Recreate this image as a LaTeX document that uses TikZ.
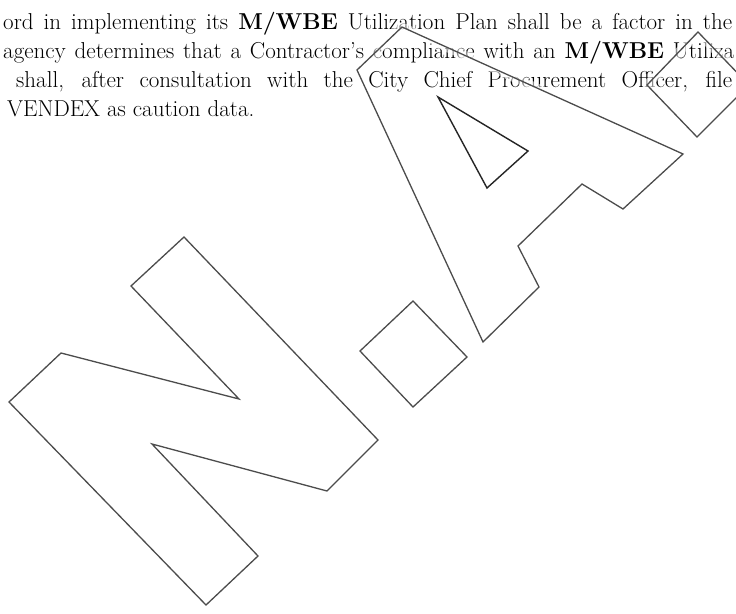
\documentclass[tikz,border=0pt]{standalone}
\usepackage{tikz}

\tikzset{
  wmline/.style={draw=black!70, line width=1.3pt, line join=miter},
  wmhole/.style={draw=black!85, line width=1.4pt, line join=miter},
  wmhalo/.style={draw=white, opacity=0.55, line width=9pt, line join=round},
  txtline/.style={anchor=base west, inner sep=0pt, font=\fontsize{23}{27}\selectfont},
}

% outlines of the watermark letters
\newcommand{\letterN}{(184,237) -- (378,440) -- (327,491) -- (152,444) -- (258,556) -- (206,605) -- (9,402) -- (61,353) -- (239,399) -- (131,286) -- cycle}
\newcommand{\dotN}{(413,301) -- (467,357) -- (413,407) -- (360,351) -- cycle}
\newcommand{\letterA}{(357,70) -- (402,27) -- (683,154) -- (623,209) -- (582,184) -- (518,246) -- (539,287) -- (483,342) -- cycle}
\newcommand{\holeA}{(438,97) -- (528,151) -- (487,188) -- cycle}
\newcommand{\dotA}{(647,85) -- (698,32) -- (749,85) -- (697,137) -- cycle}

\begin{document}
\begin{tikzpicture}[x=1pt,y=-1pt]
    \fill[white] (0,0) rectangle (736,613);
    \clip (0,0) rectangle (736,613);

    % scanned text
    \node[txtline] (l1) at (3,29) {\makebox[729pt][s]{ord in implementing its \textbf{M/WBE} Utilization Plan shall be a factor in the}};
    \node[txtline] (l2) at (3,58) {\makebox[731pt][s]{agency determines that a Contractor's compliance with an \textbf{M/WBE} Utiliza}};
    \node[txtline] (l3) at (16,87) {\makebox[716pt][s]{shall, after consultation with the City Chief Procurement Officer, file}};
    \node[txtline] (l4) at (7,116) {VENDEX as caution data.};

    % watermark
    \foreach \shp in {\letterN,\dotN,\letterA,\holeA,\dotA}
        \draw[wmhalo] \shp;
    \draw[wmline] \letterN;
    \draw[wmline] \dotN;
    \draw[wmline] \letterA;
    \draw[wmhole] \holeA;
    \draw[wmline] \dotA;
\end{tikzpicture}
\end{document}
